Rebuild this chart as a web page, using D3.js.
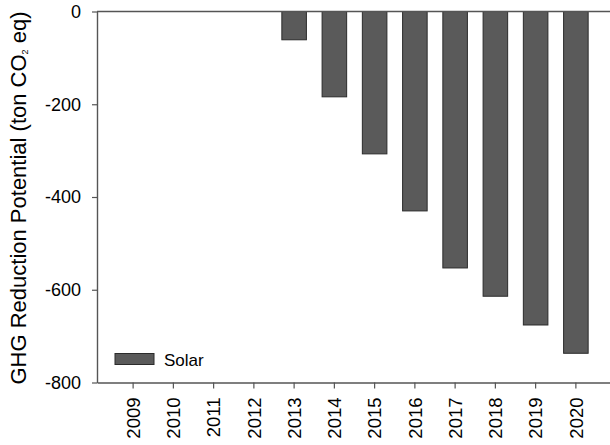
<!DOCTYPE html>
<html>
<head>
<meta charset="utf-8">
<script src="https://cdn.jsdelivr.net/npm/d3@7/dist/d3.min.js"></script>
<style>
  html, body { margin: 0; padding: 0; background: #fff; }
  svg { display: block; }
  text { font-family: "Liberation Sans", Arial, sans-serif; fill: #000; }
</style>
</head>
<body>
<svg id="chart" width="610" height="445"></svg>
<script>
// Annual GHG reduction potential of solar installations (ton CO2 eq)
const years = ["2009", "2010", "2011", "2012", "2013", "2014", "2015", "2016", "2017", "2018", "2019", "2020"];
const solar = [0, 0, 0, 0, -61, -184, -307, -430, -553, -614, -676, -737];
const yTicks = [0, -200, -400, -600, -800];
const seriesName = "Solar";

const svg = d3.select("#chart");
const plotLeft = 97, plotRight = 612, plotTop = 11.5, plotBottom = 382.5;

const x = d3.scaleBand()
  .domain(years)
  .range([plotLeft, plotRight])
  .paddingInner(0.39)
  .paddingOuter(0.5925);

const y = d3.scaleLinear()
  .domain([-800, 0])
  .range([plotBottom, plotTop]);

const axisColor = "#555";
const barFill = "#5a5a5a";
const barStroke = "#2b2b2b";

// bars hang down from the zero line
svg.append("g")
  .selectAll("rect")
  .data(years.map((yr, i) => ({ yr, v: solar[i] })).filter(d => d.v !== 0))
  .join("rect")
  .attr("x", d => x(d.yr))
  .attr("width", x.bandwidth())
  .attr("y", y(0))
  .attr("height", d => y(d.v) - y(0))
  .attr("fill", barFill)
  .attr("stroke", barStroke)
  .attr("stroke-width", 1);

// frame line at zero
svg.append("line")
  .attr("x1", plotLeft).attr("x2", plotRight)
  .attr("y1", y(0)).attr("y2", y(0))
  .attr("stroke", axisColor).attr("stroke-width", 1.4);

// y axis
const yAxis = svg.append("g")
  .attr("transform", `translate(${plotLeft},0)`)
  .call(d3.axisLeft(y).tickValues(yTicks).tickSize(5).tickSizeOuter(0).tickPadding(11)
    .tickFormat(d3.format("d")));
yAxis.select(".domain").attr("stroke", axisColor).attr("stroke-width", 1.4);
yAxis.selectAll(".tick line").attr("stroke", axisColor).attr("stroke-width", 1.2);
yAxis.selectAll(".tick text")
  .style("font-family", "'Liberation Sans', Arial, sans-serif")
  .style("font-size", "18px")
  .attr("fill", "#000")
  .text(d => d === 0 ? "0" : "-" + Math.abs(d));

// x axis
const xAxis = svg.append("g")
  .attr("transform", `translate(0,${plotBottom})`)
  .call(d3.axisBottom(x).tickSize(6).tickSizeOuter(0));
xAxis.select(".domain").attr("stroke", axisColor).attr("stroke-width", 1.4);
xAxis.selectAll(".tick line").attr("stroke", axisColor).attr("stroke-width", 1.2);
xAxis.selectAll(".tick text")
  .style("font-family", "'Liberation Sans', Arial, sans-serif")
  .style("font-size", "18.5px")
  .attr("fill", "#000")
  .attr("text-anchor", "end")
  .attr("transform", "translate(0,15) rotate(-90)")
  .attr("x", 0)
  .attr("y", 0)
  .attr("dy", "0.36em");

// y axis title
const title = svg.append("text")
  .attr("transform", "translate(25.5,198) rotate(-90)")
  .attr("text-anchor", "middle")
  .style("font-size", "22px");
title.append("tspan").text("GHG Reduction Potential (ton CO");
title.append("tspan").text("2").style("font-size", "9px").attr("dy", "2");
title.append("tspan").text(" eq)").attr("dy", "-2");

// legend
const lg = svg.append("g");
lg.append("rect")
  .attr("x", 115).attr("y", 353.5)
  .attr("width", 39).attr("height", 11)
  .attr("fill", barFill).attr("stroke", barStroke).attr("stroke-width", 1);
lg.append("text")
  .attr("x", 164).attr("y", 365.5)
  .style("font-size", "17px")
  .text(seriesName);
</script>
</body>
</html>
